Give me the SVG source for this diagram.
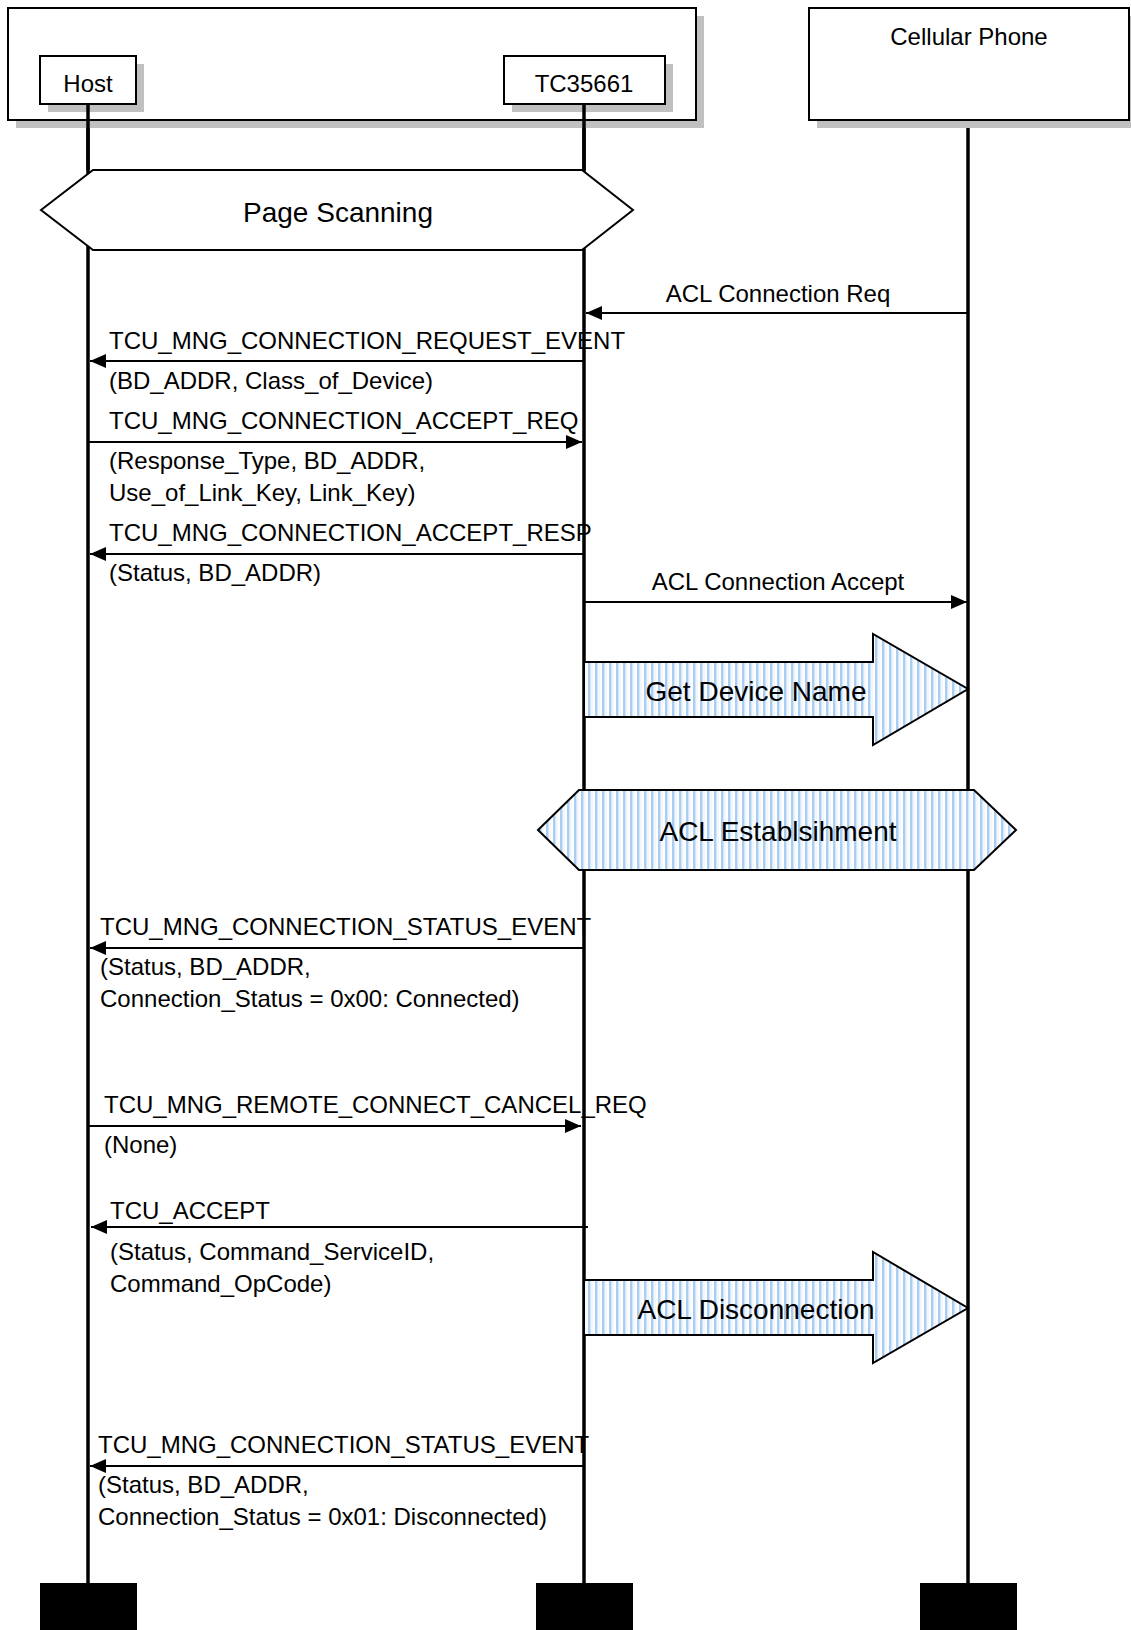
<svg xmlns="http://www.w3.org/2000/svg" width="1131" height="1630" viewBox="0 0 1131 1630">
<style>
text{font-family:"Liberation Sans",Arial,sans-serif;fill:#000}
.lbl{font-size:24px}
.big{font-size:28px}
.mid{text-anchor:middle}
.shadow{fill:#c0c0c0;stroke:none}
.box{fill:#fff;stroke:#000;stroke-width:2}
.life{stroke:#000;stroke-width:3.5;fill:none}
.msg{stroke:#000;stroke-width:2;fill:none;marker-end:url(#ah)}
.hatch{fill:url(#stripes);stroke:#000;stroke-width:2}
</style>
<defs>
<marker id="ah" markerUnits="userSpaceOnUse" markerWidth="16" markerHeight="14" refX="16" refY="7" orient="auto">
<path d="M0,0 L16,7 L0,14 z" fill="#000"/>
</marker>
<pattern id="stripes" patternUnits="userSpaceOnUse" width="7" height="10">
<rect x="0" y="0" width="7" height="10" fill="#fff"/>
<rect x="0" y="0" width="2.5" height="10" fill="#aacdf2"/>
<rect x="3.5" y="0" width="1" height="10" fill="#e3effb"/>
</pattern>
</defs>
<rect width="1131" height="1630" fill="#fff"/>

<g id="lifelines">
<line class="life" x1="88" y1="104" x2="88" y2="1584"/>
<line class="life" x1="584" y1="104" x2="584" y2="1584"/>
<line class="life" x1="968" y1="120" x2="968" y2="1584"/>
</g>

<g id="device-frame">
<rect class="shadow" x="16" y="16" width="688" height="112"/>
<rect class="box" x="8" y="8" width="688" height="112"/>
</g>
<g id="host">
<rect class="shadow" x="48" y="64" width="96" height="48"/>
<rect class="box" x="40" y="56" width="96" height="48"/>
<text class="lbl mid" x="88" y="92">Host</text>
</g>
<g id="tc35661">
<rect class="shadow" x="512" y="64" width="161" height="48"/>
<rect class="box" x="504" y="56" width="161" height="48"/>
<text class="lbl mid" x="584" y="92">TC35661</text>
</g>
<g id="cellular-phone">
<rect class="shadow" x="817" y="16" width="320" height="112"/>
<rect class="box" x="809" y="8" width="320" height="112"/>
<text class="lbl mid" x="969" y="45">Cellular Phone</text>
</g>
<line class="life" x1="88" y1="104" x2="88" y2="170"/>
<line class="life" x1="584" y1="104" x2="584" y2="170"/>

<g id="page-scanning">
<polygon class="box" points="41,210 93,170 582,170 633,210 582,250 93,250"/>
<text class="big mid" x="338" y="222">Page Scanning</text>
</g>

<g id="connectors">
<line class="msg" x1="968" y1="313" x2="586" y2="313"/>
<line class="msg" x1="584" y1="361" x2="90" y2="361"/>
<line class="msg" x1="88" y1="442" x2="582" y2="442"/>
<line class="msg" x1="584" y1="554" x2="90" y2="554"/>
<line class="msg" x1="584" y1="602" x2="967" y2="602"/>
<line class="msg" x1="584" y1="948" x2="90" y2="948"/>
<line class="msg" x1="88" y1="1126" x2="581" y2="1126"/>
<line class="msg" x1="588" y1="1227" x2="91" y2="1227"/>
<line class="msg" x1="584" y1="1466" x2="90" y2="1466"/>
</g>

<g id="labels">
<text class="lbl mid" x="778" y="302">ACL Connection Req</text>
<text class="lbl" x="109" y="349">TCU_MNG_CONNECTION_REQUEST_EVENT</text>
<text class="lbl" x="109" y="389">(BD_ADDR, Class_of_Device)</text>
<text class="lbl" x="109" y="429">TCU_MNG_CONNECTION_ACCEPT_REQ</text>
<text class="lbl" x="109" y="469">(Response_Type, BD_ADDR,</text>
<text class="lbl" x="109" y="501">Use_of_Link_Key, Link_Key)</text>
<text class="lbl" x="109" y="541">TCU_MNG_CONNECTION_ACCEPT_RESP</text>
<text class="lbl" x="109" y="581">(Status, BD_ADDR)</text>
<text class="lbl mid" x="778" y="590">ACL Connection Accept</text>
<text class="lbl" x="100" y="935">TCU_MNG_CONNECTION_STATUS_EVENT</text>
<text class="lbl" x="100" y="975">(Status, BD_ADDR,</text>
<text class="lbl" x="100" y="1007">Connection_Status = 0x00: Connected)</text>
<text class="lbl" x="104" y="1113">TCU_MNG_REMOTE_CONNECT_CANCEL_REQ</text>
<text class="lbl" x="104" y="1153">(None)</text>
<text class="lbl" x="110" y="1219">TCU_ACCEPT</text>
<text class="lbl" x="110" y="1260">(Status, Command_ServiceID,</text>
<text class="lbl" x="110" y="1292">Command_OpCode)</text>
<text class="lbl" x="98" y="1453">TCU_MNG_CONNECTION_STATUS_EVENT</text>
<text class="lbl" x="98" y="1493">(Status, BD_ADDR,</text>
<text class="lbl" x="98" y="1525">Connection_Status = 0x01: Disconnected)</text>
</g>

<g id="get-device-name">
<path class="hatch" d="M584,662 L873,662 L873,634 L968,689 L873,745 L873,717 L584,717 Z"/>
<text class="big mid" x="756" y="701">Get Device Name</text>
</g>

<g id="acl-establishment">
<polygon class="hatch" points="538,830 579,790 974,790 1016,830 974,870 579,870"/>
<text class="big mid" x="778" y="841">ACL Establsihment</text>
</g>

<g id="acl-disconnection">
<path class="hatch" d="M584,1280 L873,1280 L873,1252 L968,1308 L873,1363 L873,1335 L584,1335 Z"/>
<text class="big mid" x="756" y="1319">ACL Disconnection</text>
</g>

<g id="end-markers">
<rect x="40" y="1583" width="97" height="47" fill="#000"/>
<rect x="536" y="1583" width="97" height="47" fill="#000"/>
<rect x="920" y="1583" width="97" height="47" fill="#000"/>
</g>
</svg>
